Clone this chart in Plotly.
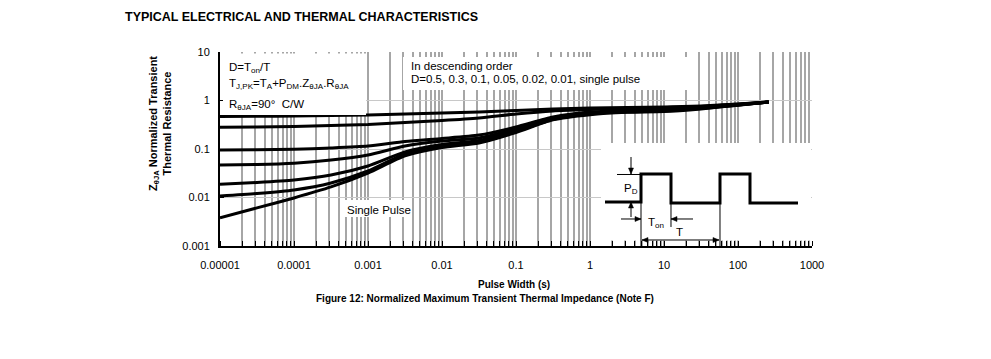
import plotly.graph_objects as go

# ---------------- data ----------------
pulse_width = [1e-5, 3.16e-5, 1e-4, 3.16e-4, 1e-3, 3.16e-3, 1e-2, 3.16e-2,
               0.1, 0.316, 1, 3.16, 10, 31.6, 100, 260]
z_d05 = [0.468, 0.472, 0.479, 0.491, 0.502, 0.527, 0.552, 0.579,
         0.622, 0.668, 0.700, 0.717, 0.734, 0.771, 0.848, 0.93]
z_d03 = [0.280, 0.284, 0.291, 0.305, 0.320, 0.352, 0.387, 0.436,
         0.527, 0.610, 0.652, 0.684, 0.717, 0.752, 0.840, 0.93]
z_d01 = [0.095, 0.0963, 0.0986, 0.105, 0.115, 0.143, 0.165, 0.194,
         0.284, 0.457, 0.579, 0.622, 0.652, 0.734, 0.828, 0.93]
z_d005 = [0.047, 0.048, 0.051, 0.059, 0.075, 0.115, 0.146, 0.169,
          0.258, 0.430, 0.550, 0.610, 0.640, 0.720, 0.830, 0.93]
z_d002 = [0.0187, 0.0204, 0.023, 0.029, 0.0446, 0.087, 0.124, 0.150,
          0.240, 0.416, 0.540, 0.590, 0.620, 0.700, 0.810, 0.93]
z_d001 = [0.0107, 0.0121, 0.0143, 0.0199, 0.0352, 0.079, 0.115, 0.139,
          0.230, 0.406, 0.530, 0.580, 0.610, 0.680, 0.810, 0.93]
z_single = [0.0038, 0.0061, 0.0098, 0.0165, 0.032, 0.072, 0.107, 0.133,
            0.219, 0.400, 0.510, 0.570, 0.590, 0.670, 0.800, 0.93]

series = [z_d05, z_d03, z_d01, z_d005, z_d002, z_d001, z_single]

x_tickvals = [1e-5, 1e-4, 1e-3, 1e-2, 0.1, 1, 10, 100, 1000]
x_ticktext = ["0.00001", "0.0001", "0.001", "0.01", "0.1", "1", "10", "100", "1000"]
y_tickvals = [0.001, 0.01, 0.1, 1, 10]
y_ticktext = ["0.001", "0.01", "0.1", "1", "10"]

# ---------------- layout geometry ----------------
W, H = 991, 359
L, R, T, B = 220, 812, 52, 246
FONT = "Liberation Sans, Arial, sans-serif"


def px(x):
    return (x - L) / (R - L)


def py(y):
    return (B - y) / (B - T)


fig = go.Figure()
for s in series:
    fig.add_trace(go.Scatter(x=pulse_width, y=s, mode="lines",
                             line=dict(color="black", width=3, shape="spline", smoothing=0.6),
                             hoverinfo="skip", showlegend=False))

shapes = []
annotations = []

# white boxes hiding the grid
for (x0, y0, x1, y1) in [(223, 53.5, 366, 115), (403, 57, 687, 90),
                         (343, 200, 410, 217), (601, 143, 811, 240.5)]:
    shapes.append(dict(type="rect", xref="paper", yref="paper",
                       x0=px(x0), x1=px(x1), y0=py(y1), y1=py(y0),
                       fillcolor="white", line=dict(width=0), layer="above"))


def poly(points, width=1, fill=None, closed=False):
    p = "M " + " L ".join(f"{px(a):.5f},{py(b):.5f}" for a, b in points)
    if closed:
        p += " Z"
    d = dict(type="path", xref="paper", yref="paper", path=p,
             line=dict(color="black", width=width), layer="above")
    if fill:
        d["fillcolor"] = fill
    shapes.append(d)


# pulse train schematic
poly([(605, 202), (641, 202), (641, 174), (671, 174), (671, 203), (720, 203),
      (720, 174), (750, 174), (750, 203), (798, 203)], width=3)
for seg in [[(617, 174.5), (641, 174.5)], [(641, 202), (641, 246)],
            [(671, 203), (671, 227)], [(720, 203), (720, 246)]]:
    poly(seg)


def arrow(hx, hy, tx, ty):
    poly([(tx, ty), (hx, hy)])
    dx, dy = hx - tx, hy - ty
    n = (dx * dx + dy * dy) ** 0.5
    ux, uy = dx / n, dy / n
    bx, by = hx - 6 * ux, hy - 6 * uy
    poly([(hx, hy), (bx - 2.5 * uy, by + 2.5 * ux), (bx + 2.5 * uy, by - 2.5 * ux)],
         width=0.5, fill="black", closed=True)


arrow(631, 174, 631, 157)
arrow(631, 202, 631, 217)
arrow(641, 219, 621, 219)
arrow(671, 219, 693, 219)
arrow(642, 240, 680, 240)
arrow(719, 240, 680, 240)


def label(text, x, y, xanchor="left", size=11.5, bold=False):
    annotations.append(dict(xref="paper", yref="paper", x=px(x), y=py(y),
                            text=f"<b>{text}</b>" if bold else text,
                            showarrow=False, xanchor=xanchor, yanchor="middle",
                            font=dict(family=FONT, size=size, color="black")))


label("P<sub>D</sub>", 631, 189, "center")
label("T<sub>on</sub>", 656, 223, "center")
label("T", 679, 232, "center")

label("D=T<sub>on</sub>/T", 227, 68)
label("T<sub>J,PK</sub>=T<sub>A</sub>+P<sub>DM</sub>.Z<sub>θJA</sub>.R<sub>θJA</sub>", 227, 84)
label("R<sub>θJA</sub>=90°  C/W", 227, 105)
label("In descending order", 409, 66)
label("D=0.5, 0.3, 0.1, 0.05, 0.02, 0.01, single pulse", 409, 79)
label("Single Pulse", 345, 210)

# titles
annotations.append(dict(xref="paper", yref="paper", x=px(123), y=py(17),
                        text="<b>TYPICAL ELECTRICAL AND THERMAL CHARACTERISTICS</b>",
                        showarrow=False, xanchor="left", yanchor="middle",
                        font=dict(family=FONT, size=12.5, color="black")))
label("Pulse Width (s)", 514, 284, "center", size=10, bold=True)
label("Figure 12: Normalized Maximum Transient Thermal Impedance (Note F)",
      485, 298, "center", size=10, bold=True)
annotations.append(dict(xref="paper", yref="paper", x=px(160), y=py(124),
                        text="<b>Z<sub>θJA</sub> Normalized Transient<br>Thermal Resistance</b>",
                        showarrow=False, textangle=-90, xanchor="center", yanchor="middle",
                        font=dict(family=FONT, size=11, color="black")))

fig.update_layout(
    width=W, height=H,
    margin=dict(l=L, r=W - R, t=T, b=H - B, pad=0),
    paper_bgcolor="white", plot_bgcolor="white",
    shapes=shapes, annotations=annotations,
    showlegend=False,
    xaxis=dict(type="log", range=[-5, 3], tickvals=x_tickvals, ticktext=x_ticktext,
               showgrid=True, gridcolor="#a6a6a6", gridwidth=2,
               showline=True, linecolor="black", linewidth=2,
               ticks="", tickfont=dict(family=FONT, size=11, color="black"),
               ticklabelstandoff=8, zeroline=False,
               minor=dict(dtick="D1", showgrid=True, gridcolor="#a6a6a6", gridwidth=2,
                          ticks="inside", ticklen=5, tickcolor="black", tickwidth=1)),
    yaxis=dict(type="log", range=[-3, 1], tickvals=y_tickvals, ticktext=y_ticktext,
               showgrid=True, gridcolor="#c8c8c8", gridwidth=1,
               showline=True, linecolor="black", linewidth=2,
               ticks="inside", ticklen=4, tickcolor="black", tickwidth=1,
               tickfont=dict(family=FONT, size=11, color="black"),
               ticklabelstandoff=6, zeroline=False),
)

fig.write_html("out.html", config={"displayModeBar": False},
               post_script="document.body.style.margin='0';document.body.style.padding='0';")
